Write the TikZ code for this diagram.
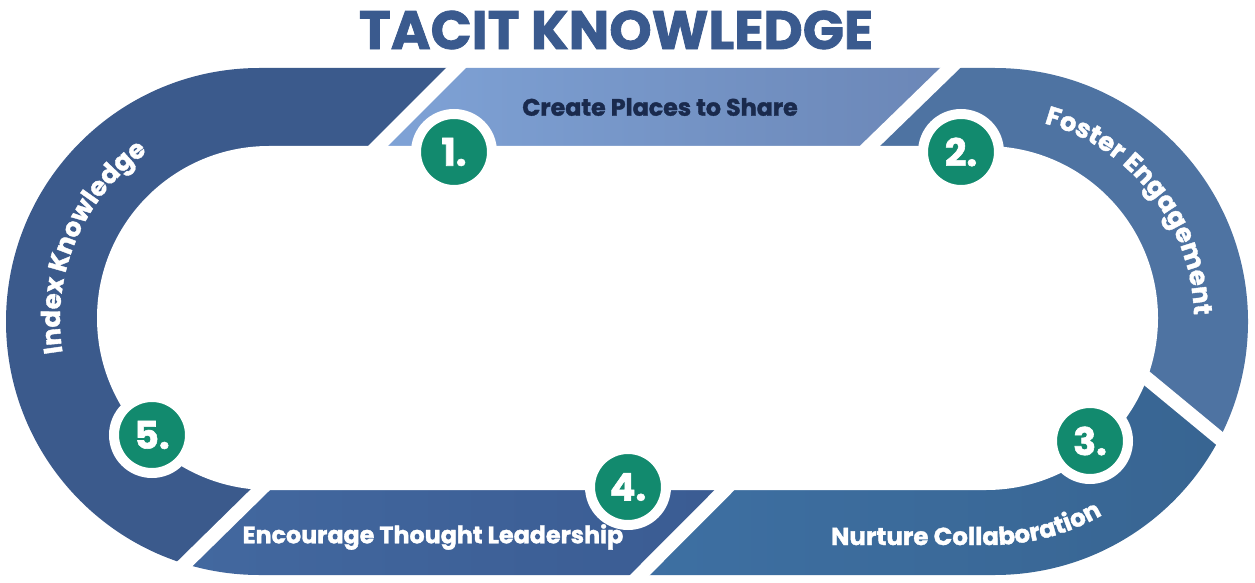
\documentclass[tikz,border=0pt]{standalone}
\usepackage{fontspec}
\setmainfont{Poppins}
\newfontfamily\heavyfont{Poppins Bold}[FakeBold=1.5]
\usetikzlibrary{decorations.text}
\definecolor{titleblue}{HTML}{3A5A8E}
\definecolor{segfive}{HTML}{3B5A8C}
\definecolor{segonel}{HTML}{80A4D8}
\definecolor{segoner}{HTML}{6A85B5}
\definecolor{segtwo}{HTML}{4E73A2}
\definecolor{segthreel}{HTML}{3E70A3}
\definecolor{segthreer}{HTML}{37638F}
\definecolor{segfourl}{HTML}{4369A0}
\definecolor{segfourr}{HTML}{3A5B92}
\definecolor{numgreen}{HTML}{128A6E}
\definecolor{navytext}{HTML}{1A2A4D}
\newcommand\sidefont{\heavyfont\fontsize{26}{30}\selectfont\color{white}}
\newcommand\curvefont{\heavyfont\fontsize{24.5}{28}\selectfont\color{white}}
\begin{document}
\begin{tikzpicture}[x=1pt,y=1pt,
  lbl/.style={font=\heavyfont\fontsize{23.8}{27}\selectfont, text=white, inner sep=0pt},
  numc/.style={circle, fill=numgreen, draw=white, line width=10pt, minimum size=76pt, inner sep=0pt, text=white, font=\heavyfont\fontsize{38}{40}\selectfont},
  gapline/.style={white, line width=14pt}]
\fill[white] (0,0) rectangle (1255,582);
\useasboundingbox (0,0) rectangle (1255,582);
% cut lines
\coordinate (Aout) at (484,542); \coordinate (Ain) at (349,407);
\coordinate (Bout) at (979,542); \coordinate (Bin) at (840,407);
\coordinate (Cout) at (1288,87); \coordinate (Cin) at (1115.5,229.5);
\coordinate (Dout) at (615,-18); \coordinate (Din) at (749.5,117);
\coordinate (Eout) at (148,-18); \coordinate (Ein) at (285.5,117);
% ring segments
\begin{scope}
\clip (259.5,514) -- (994.5,514) arc[start angle=90,end angle=-90,radius=253.5] -- (259.5,7) arc[start angle=270,end angle=90,radius=253.5] -- cycle;
\fill[segfive] (Eout) -- (Ein) -- (Ain) -- (Aout) -- (-50,600) -- (-50,-18) -- cycle;
\shade[left color=segonel, right color=segoner] (Aout) -- (Bout) -- (Bin) -- (Ain) -- cycle;
\fill[segtwo] (Bout) -- (1320,542) -- (1320,87) -- (Cout) -- (Cin) -- (Bin) -- cycle;
\shade[left color=segthreel, right color=segthreer] (Cout) -- (Cin) -- (Din) -- (Dout) -- (1320,-18) -- (1320,87) -- cycle;
\shade[left color=segfourl, right color=segfourr] (Dout) -- (Din) -- (Ein) -- (Eout) -- cycle;
\end{scope}
% hole
\fill[white] (269,436) -- (986,436) arc[start angle=90,end angle=-90,radius=172] -- (269,92) arc[start angle=270,end angle=90,radius=172] -- cycle;
% gaps
\draw[gapline] (Aout) -- (Ain);
\draw[gapline] (Bout) -- (Bin);
\draw[gapline] (Cout) -- (Cin);
\draw[gapline] (Dout) -- (Din);
\draw[gapline] (Eout) -- (Ein);
% title
\node[font=\heavyfont\fontsize{54}{60}\selectfont, text=titleblue, inner sep=0pt] (title) at (616,552) {TACIT KNOWLEDGE};
% straight labels
\node[lbl, text=navytext] (l1) at (660,475) {Create Places to Share};
\node[lbl] (l4) at (433,45) {Encourage Thought Leadership};
% curved labels
\path[decorate, decoration={text along path, text={|\sidefont|Index Knowledge}, text align=center}]
  ([shift={(207:204)}]264,262) arc[start angle=207, end angle=107, radius=204];
\path[decorate, decoration={text along path, text={|\sidefont|Foster Engagement}, text align=center}]
  ([shift={(88:204)}]990,262) arc[start angle=88, end angle=-12, radius=204];
\path[decorate, decoration={text along path, text={|\curvefont|Nurture Collaboration}, text align=left}]
  (831,37) -- (990,37) arc[start angle=270, end angle=340, radius=225];
% number circles
\node[numc] (c1) at (454,430) {1.};
\node[numc] (c2) at (961,430) {2.};
\node[numc] (c3) at (1090,141) {3.};
\node[numc] (c4) at (628,95) {4.};
\node[numc] (c5) at (152,147) {5.};
\end{tikzpicture}
\end{document}
